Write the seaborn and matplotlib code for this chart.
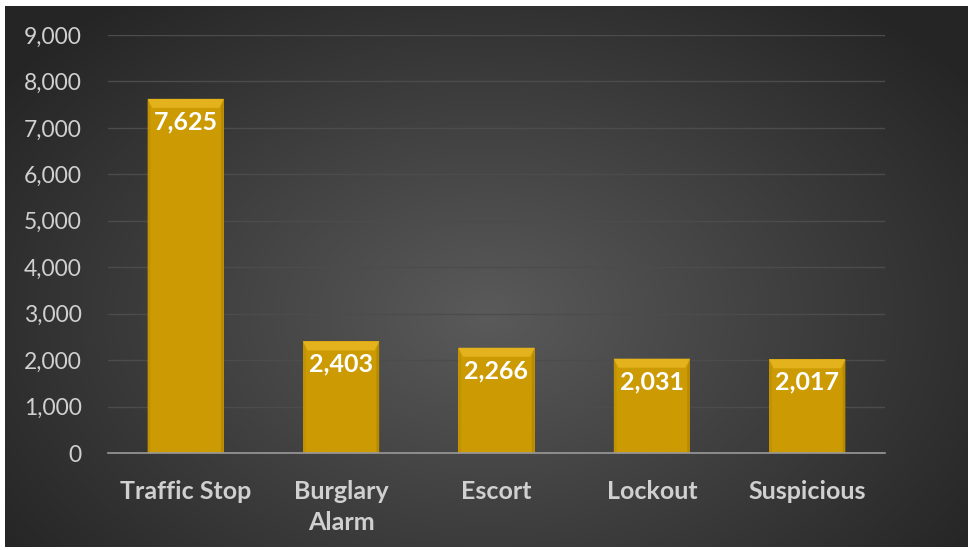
import numpy as np
import pandas as pd
import matplotlib
matplotlib.use("Agg")
import matplotlib.pyplot as plt
from matplotlib.patches import Polygon
import seaborn as sns

categories = ["Traffic Stop", "Burglary\nAlarm", "Escort", "Lockout", "Suspicious"]
calls = [7625, 2403, 2266, 2031, 2017]
y_ticks = [0, 1000, 2000, 3000, 4000, 5000, 6000, 7000, 8000, 9000]

df = pd.DataFrame({"category": categories, "calls": calls})

sns.set_theme(style="dark")
plt.rcParams["font.family"] = ["Lato", "DejaVu Sans"]

fig = plt.figure(figsize=(9.68, 5.5), dpi=100)
fig.patch.set_facecolor("white")

# dark radial-gradient panel behind the chart
bg = fig.add_axes([5 / 968, 3 / 550, 963 / 968, 541 / 550])
h, w = 300, 540
yy, xx = np.mgrid[0:h, 0:w]
cx, cy = 0.50 * w, 0.57 * h
r = np.sqrt(((xx - cx) / (0.62 * w)) ** 2 + ((yy - cy) / (0.75 * h)) ** 2)
r = np.clip(r, 0, 1)
inner = np.array([0x5a, 0x5a, 0x5a]) / 255
outer = np.array([0x25, 0x25, 0x25]) / 255
img = inner[None, None, :] * (1 - r[..., None]) + outer[None, None, :] * r[..., None]
bg.imshow(img, aspect="auto", extent=[0, 1, 0, 1], origin="upper")
bg.set_axis_off()

ax = fig.add_axes([108 / 968, 1 - 453 / 550, 777 / 968, 418 / 550])
ax.set_facecolor("none")

gold = "#CC9A02"
sns.barplot(data=df, x="category", y="calls", color=gold, saturation=1,
            width=0.49, ax=ax, zorder=3, edgecolor="none", linewidth=0)

ax.set_ylim(0, 9000)
ax.set_xlim(-0.5, len(categories) - 0.5)
ax.set_yticks(y_ticks)
ax.set_yticklabels([f"{v:,}" for v in y_ticks])
ax.grid(axis="y", color="#4c4c4c", linewidth=1.0, zorder=0)
ax.grid(axis="x", visible=False)
for s in ["top", "right", "left"]:
    ax.spines[s].set_visible(False)
ax.spines["bottom"].set_color("#9a9a9a")
ax.spines["bottom"].set_linewidth(1.2)
ax.spines["bottom"].set_zorder(4)

ax.tick_params(axis="y", colors="#d0d0d0", labelsize=16.5, length=0, pad=19)
ax.tick_params(axis="x", colors="#d0d0d0", labelsize=18, length=0, pad=19.5)
for lbl in ax.get_xticklabels():
    lbl.set_fontweight("bold")
    lbl.set_linespacing(1.42)
ax.set_xlabel("")
ax.set_ylabel("")

# bevel shading and value labels on each bar
px = 9000 / 418
for bar, val in zip(ax.patches, calls):
    x0 = bar.get_x()
    bw = bar.get_width()
    top = bar.get_height()
    bev_y = 9 * px
    bev_x = bw * 0.06
    ax.add_patch(Polygon([(x0, top), (x0 + bw, top), (x0 + bw - bev_x, top - bev_y),
                          (x0 + bev_x, top - bev_y)], closed=True,
                         facecolor="#E4B21C", edgecolor="none", zorder=4))
    ax.add_patch(Polygon([(x0, top), (x0 + bev_x * 0.6, top - bev_y), (x0 + bev_x * 0.6, 0), (x0, 0)],
                         closed=True, facecolor="#C29200", edgecolor="none", zorder=4))
    ax.add_patch(Polygon([(x0 + bw, top), (x0 + bw - bev_x * 0.6, top - bev_y),
                          (x0 + bw - bev_x * 0.6, 0), (x0 + bw, 0)],
                         closed=True, facecolor="#B88A00", edgecolor="none", zorder=4))
    ax.text(x0 + bw / 2, top - 23 * px, f"{val:,}", ha="center", va="center",
            color="white", fontsize=18, fontweight="bold", zorder=5)

fig.savefig("out.png", dpi=100, facecolor=fig.get_facecolor())
